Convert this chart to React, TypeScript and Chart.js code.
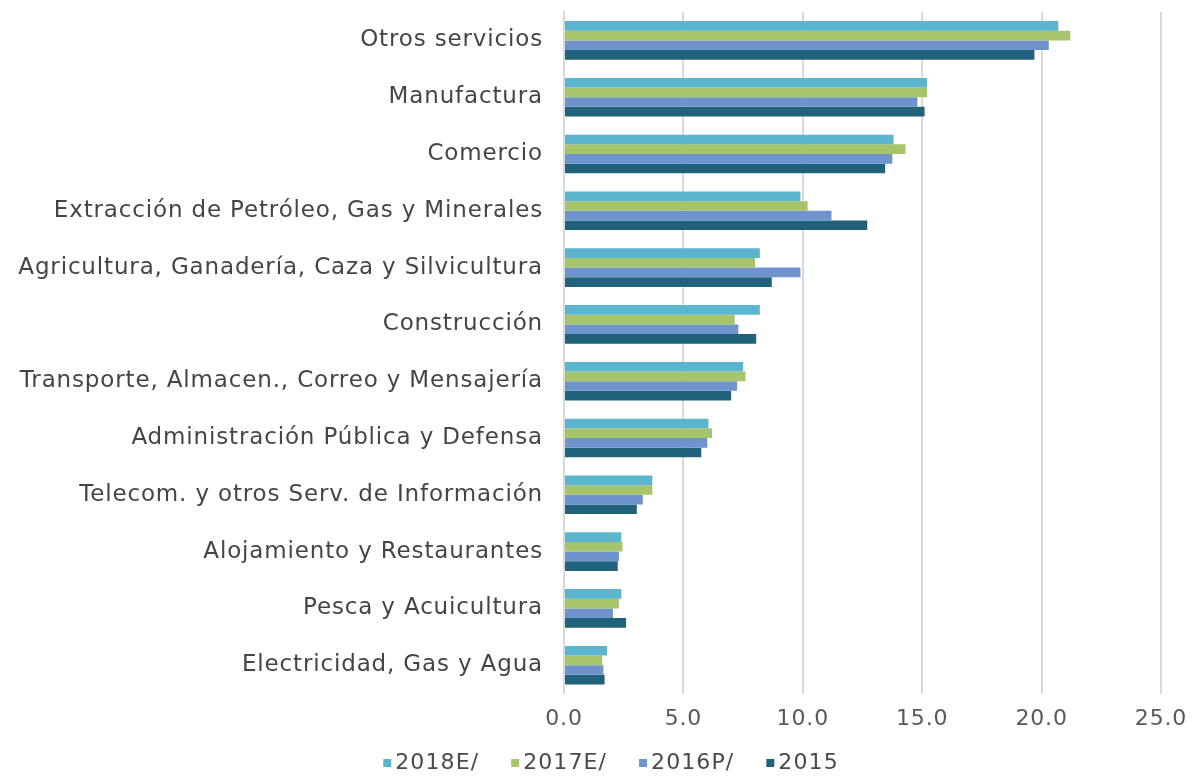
import React, { useEffect, useRef } from "react";
import { Chart, registerables } from "chart.js";

Chart.register(...registerables);

const categories = [
  "Otros servicios",
  "Manufactura",
  "Comercio",
  "Extracción de Petróleo, Gas y Minerales",
  "Agricultura, Ganadería, Caza y Silvicultura",
  "Construcción",
  "Transporte, Almacen., Correo y Mensajería",
  "Administración Pública y Defensa",
  "Telecom. y otros Serv. de Información",
  "Alojamiento y Restaurantes",
  "Pesca y Acuicultura",
  "Electricidad, Gas y Agua",
];

const seriesNames = ["2018E/", "2017E/", "2016P/", "2015"];

const values2018E = [20.7, 15.2, 13.8, 9.9, 8.2, 8.2, 7.5, 6.05, 3.7, 2.4, 2.4, 1.8];
const values2017E = [21.2, 15.2, 14.3, 10.2, 8.0, 7.15, 7.6, 6.2, 3.7, 2.45, 2.3, 1.6];
const values2016P = [20.3, 14.8, 13.75, 11.2, 9.9, 7.3, 7.25, 6.0, 3.3, 2.3, 2.05, 1.65];
const values2015 = [19.7, 15.1, 13.45, 12.7, 8.7, 8.05, 7.0, 5.75, 3.05, 2.25, 2.6, 1.7];

const xTicks = [0, 5, 10, 15, 20, 25];

const colors = ["#5BB5CF", "#A6C46A", "#6E93CD", "#1F627A"];

const FONT = "'DejaVu Sans', sans-serif";
const SPACING = "0.85px";

const spacingPlugin = {
  id: "letterSpacing",
  beforeUpdate(chart: any) {
    chart.ctx.letterSpacing = SPACING;
  },
  beforeDraw(chart: any) {
    chart.ctx.letterSpacing = SPACING;
  },
};

// Legend drawn under the axis, with a small square and a tight gap to the text.
const bottomLegendPlugin = {
  id: "bottomLegend",
  afterDraw(chart: any) {
    const ctx = chart.ctx as CanvasRenderingContext2D;
    const datasets = chart.data.datasets;
    const box = 8;
    const gapBoxText = 4;
    const gapItems = 32;
    const centerX = 611;
    const centerY = 762;
    ctx.save();
    ctx.letterSpacing = "1.1px";
    ctx.font = `22px ${FONT}`;
    ctx.textBaseline = "middle";
    ctx.textAlign = "left";
    const widths = datasets.map((d: any) => ctx.measureText(String(d.label)).width);
    const total =
      widths.reduce((a: number, w: number) => a + w + box + gapBoxText, 0) +
      gapItems * (datasets.length - 1);
    let x = centerX - total / 2;
    datasets.forEach((d: any, i: number) => {
      ctx.fillStyle = d.backgroundColor;
      ctx.fillRect(x, centerY - box / 2 + 1, box, box);
      x += box + gapBoxText;
      ctx.fillStyle = "#4A4A4A";
      ctx.fillText(String(d.label), x, centerY + 1);
      x += widths[i] + gapItems;
    });
    ctx.restore();
  },
};

export default function App() {
  const canvasRef = useRef<HTMLCanvasElement | null>(null);

  useEffect(() => {
    const canvas = canvasRef.current;
    if (!canvas) return;
    const seriesValues = [values2018E, values2017E, values2016P, values2015];
    const chart = new Chart(canvas, {
      type: "bar",
      data: {
        labels: categories,
        datasets: seriesNames.map((name, i) => ({
          label: name,
          data: seriesValues[i],
          backgroundColor: colors[i],
          borderWidth: 0,
          categoryPercentage: 0.68,
          barPercentage: 1.0,
        })),
      },
      plugins: [spacingPlugin, bottomLegendPlugin],
      options: {
        indexAxis: "y",
        animation: false,
        responsive: false,
        maintainAspectRatio: false,
        layout: { padding: { top: 12, right: 39, bottom: 38, left: 0 } },
        plugins: {
          tooltip: { enabled: false },
          legend: { display: false },
        },
        scales: {
          x: {
            min: 0,
            max: 25,
            afterBuildTicks: (scale: any) => {
              scale.ticks = xTicks.map((v) => ({ value: v }));
            },
            afterFit: (scale: any) => {
              scale.paddingLeft = 0;
              scale.paddingRight = 0;
            },
            ticks: {
              callback: (v: any) => Number(v).toFixed(1),
              color: "#595959",
              font: { family: FONT, size: 22 },
              padding: 12,
              maxRotation: 0,
            },
            grid: {
              color: "#D9D9D9",
              lineWidth: 2,
              drawTicks: false,
            },
            border: { display: false },
          },
          y: {
            afterFit: (scale: any) => {
              scale.width = 564;
              scale.paddingTop = 0;
              scale.paddingBottom = 0;
            },
            ticks: {
              color: "#454545",
              font: { family: FONT, size: 23 },
              padding: 21,
              autoSkip: false,
            },
            grid: { display: false, drawTicks: false },
            border: { display: true, color: "#D9D9D9", width: 2 },
          },
        },
      },
    });
    return () => chart.destroy();
  }, []);

  return (
    <div style={{ position: "fixed", left: 0, top: 0, width: 1200, height: 782, background: "#fff" }}>
      <canvas ref={canvasRef} width={1200} height={782} style={{ width: 1200, height: 782 }} />
    </div>
  );
}
